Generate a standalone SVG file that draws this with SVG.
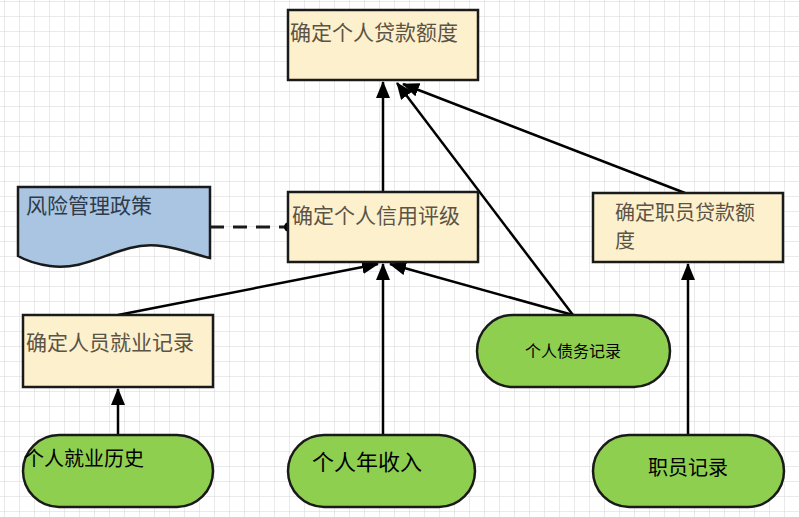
<svg xmlns="http://www.w3.org/2000/svg" width="799" height="517" viewBox="0 0 799 517">
<defs>
<pattern id="grid" x="4" y="1" width="15" height="15" patternUnits="userSpaceOnUse">
<path d="M0,0 H15 M0,0 V15" stroke="#d6d6d6" stroke-width="1" fill="none"/>
</pattern>
<marker id="arr" viewBox="0 0 17 14" refX="16" refY="7" markerWidth="17" markerHeight="14" markerUnits="userSpaceOnUse" orient="auto">
<path d="M0,0 L17,7 L0,14 Z" fill="#000"/>
</marker>
</defs>
<style>
.box{fill:#fdf0cc;stroke:#1a1a1a;stroke-width:2.5}
.pill{fill:#8fcf50;stroke:#1a1a1a;stroke-width:2.5}
.doc{fill:#a9c5e2;stroke:#1a1a1a;stroke-width:2.5}
.t{font-family:"Noto Sans CJK SC","Noto Sans",sans-serif;fill:#5b5346}
.g{font-family:"Noto Sans CJK SC","Noto Sans",sans-serif;fill:#000}
.c{stroke:#000;stroke-width:2.5;fill:none;marker-end:url(#arr)}
</style>
<rect width="799" height="517" fill="#fff"/>
<rect width="799" height="517" fill="url(#grid)"/>

<g id="connectors">
<line class="c" x1="383" y1="192" x2="383" y2="82"/>
<line class="c" x1="573" y1="315" x2="397" y2="83"/>
<line class="c" x1="685" y1="193" x2="403" y2="84"/>
<line class="c" x1="118" y1="315" x2="378" y2="264"/>
<line class="c" x1="383" y1="435" x2="383" y2="264"/>
<line class="c" x1="573" y1="315" x2="390" y2="264"/>
<line class="c" x1="118" y1="435" x2="118" y2="389"/>
<line class="c" x1="688" y1="435" x2="688" y2="264"/>
<line x1="210" y1="227" x2="285" y2="227" stroke="#1a1a1a" stroke-width="3" stroke-dasharray="14,9"/>
<circle cx="289" cy="227" r="5" fill="#000"/>
</g>

<g id="n_top">
<rect class="box" x="288" y="10" width="190" height="70"/>
<text class="t" x="290" y="40" font-size="21">确定个人贷款额度</text>
</g>

<g id="n_policy">
<path class="doc" d="M18,187 H210 V258 C185,252 160,240 130,248 C100,256 80,270 50,266 C35,264 25,260 18,256 Z"/>
<text class="t" x="26" y="213" font-size="21" style="fill:#2f3b4a">风险管理政策</text>
</g>

<g id="n_credit">
<rect class="box" x="288" y="192" width="190" height="70"/>
<text class="t" x="292" y="223" font-size="21">确定个人信用评级</text>
</g>

<g id="n_staffloan">
<rect class="box" x="593" y="193" width="190" height="69"/>
<text class="t" x="615" y="220" font-size="20">确定职员贷款额</text>
<text class="t" x="615" y="248" font-size="20">度</text>
</g>

<g id="n_employ">
<rect class="box" x="23" y="315" width="190" height="72"/>
<text class="t" x="26" y="350" font-size="21">确定人员就业记录</text>
</g>

<g id="n_debt">
<rect class="pill" x="477" y="315" width="193" height="72" rx="36" ry="36"/>
<text class="g" x="573" y="357" font-size="16" text-anchor="middle">个人债务记录</text>
</g>

<g id="n_history">
<rect class="pill" x="23" y="435" width="190" height="72" rx="36" ry="36"/>
<text class="g" x="24" y="466" font-size="20">个人就业历史</text>
</g>

<g id="n_income">
<rect class="pill" x="288" y="435" width="187" height="72" rx="36" ry="36"/>
<text class="g" x="312" y="470" font-size="22">个人年收入</text>
</g>

<g id="n_staff">
<rect class="pill" x="593" y="435" width="191" height="72" rx="36" ry="36"/>
<text class="g" x="688" y="475" font-size="20" text-anchor="middle">职员记录</text>
</g>
</svg>
